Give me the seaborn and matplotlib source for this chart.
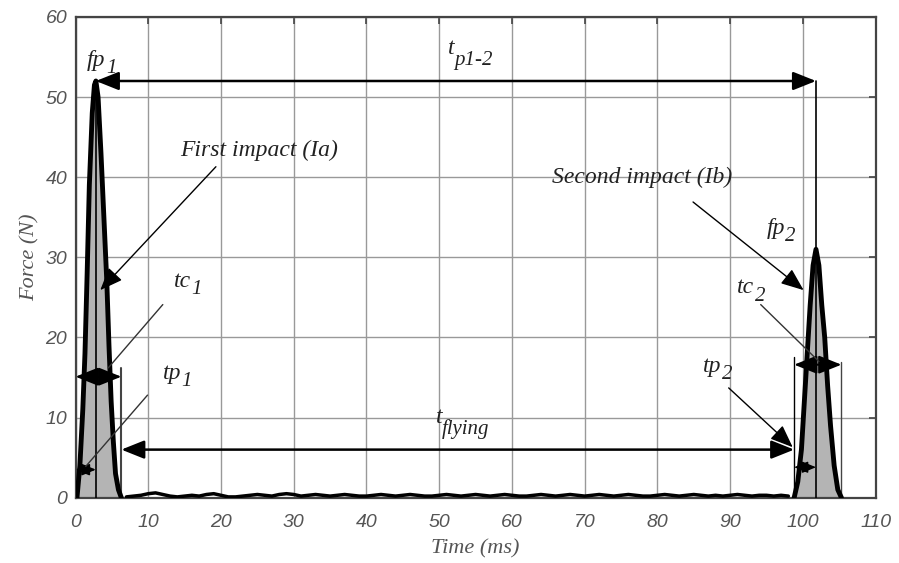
import numpy as np
import pandas as pd
import seaborn as sns
import matplotlib.pyplot as plt

# peak shapes (time in ms, force in N)
peak1_time = [0.2, 0.6, 1.0, 1.3, 1.6, 1.9, 2.3, 2.6, 2.8, 3.1, 3.5, 3.9, 4.3, 4.6, 4.9, 5.2, 5.5, 5.9, 6.3]
peak1_force = [0, 4, 11, 18, 28, 39, 48, 51.5, 52, 50, 43, 35, 27, 19, 12, 7, 3, 1, 0]

peak2_time = [98.8, 99.3, 99.8, 100.2, 100.6, 101.0, 101.4, 101.8, 102.2, 102.6, 103.0, 103.4, 103.8, 104.3, 104.8, 105.3]
peak2_force = [0, 2, 6, 12, 18, 24, 29, 31, 29, 24, 20, 14, 9, 4, 1, 0]

# flying phase, small wiggle near zero
noise_time = list(range(7, 99))
noise_force = [0.1, 0.2, 0.3, 0.5, 0.6, 0.4, 0.2, 0.1, 0.2, 0.3, 0.2, 0.4, 0.5, 0.3, 0.1, 0.1,
               0.2, 0.3, 0.4, 0.3, 0.2, 0.4, 0.5, 0.4, 0.2, 0.3, 0.4, 0.3, 0.2, 0.3, 0.4, 0.3,
               0.2, 0.2, 0.3, 0.4, 0.3, 0.2, 0.3, 0.4, 0.3, 0.2, 0.2, 0.3, 0.4, 0.3, 0.2, 0.3,
               0.4, 0.3, 0.2, 0.3, 0.4, 0.3, 0.2, 0.2, 0.3, 0.4, 0.3, 0.2, 0.3, 0.4, 0.3, 0.2,
               0.3, 0.4, 0.3, 0.2, 0.3, 0.4, 0.3, 0.2, 0.2, 0.3, 0.4, 0.3, 0.2, 0.3, 0.4, 0.3,
               0.2, 0.3, 0.2, 0.3, 0.4, 0.3, 0.2, 0.3, 0.3, 0.2, 0.3, 0.2]

x_ticks = [0, 10, 20, 30, 40, 50, 60, 70, 80, 90, 100, 110]
y_ticks = [0, 10, 20, 30, 40, 50, 60]

tp1, tc1 = 2.8, 6.3
tp2_start, tp2_peak, tc2_end = 98.8, 101.8, 105.3
fp1, fp2 = 52, 31

sns.set_style("white")
serif = ['Liberation Serif', 'DejaVu Serif']

fig = plt.figure(figsize=(8.99, 5.63), dpi=100)
ax = fig.add_axes([0.084, 0.116, 0.89, 0.854])

p1 = pd.DataFrame({'t': peak1_time, 'f': peak1_force})
p2 = pd.DataFrame({'t': peak2_time, 'f': peak2_force})
fl = pd.DataFrame({'t': noise_time, 'f': noise_force})

ax.fill_between(p1['t'], p1['f'], color='#b4b4b4', zorder=2)
ax.fill_between(p2['t'], p2['f'], color='#b4b4b4', zorder=2)
for d in (p1, p2):
    sns.lineplot(data=d, x='t', y='f', ax=ax, color='black', lw=3.5, zorder=4)
sns.lineplot(data=fl, x='t', y='f', ax=ax, color='black', lw=2.5, zorder=4)

# vertical guide lines
ax.plot([tp1, tp1], [0, fp1], color='black', lw=1.2, zorder=3)
ax.plot([tc1, tc1], [0, 16.2], color='#444444', lw=1.5, zorder=3)
ax.plot([tp2_peak, tp2_peak], [0, fp1], color='black', lw=1.2, zorder=3)
ax.plot([tp2_start, tp2_start], [0, 17.6], color='black', lw=1.0, zorder=3)
ax.plot([tc2_end, tc2_end], [0, 16.9], color='#444444', lw=1.0, zorder=3)


def arrow(x0, y0, x1, y1, style='<|-|>', lw=1.5, hl=1.0, hw=0.4):
    ax.annotate('', xy=(x1, y1), xytext=(x0, y0),
                arrowprops=dict(arrowstyle=f'{style},head_length={hl},head_width={hw}',
                                color='black', lw=lw, mutation_scale=14,
                                shrinkA=0, shrinkB=0), zorder=5)


arrow(tp1, fp1, tp2_peak, fp1, lw=1.8)
arrow(tc1, 6.0, tp2_start, 6.0, lw=1.8)
arrow(0, 15.1, tc1, 15.1, lw=1.5)
arrow(0, 3.5, tp1, 3.5, lw=1.2, hl=0.6, hw=0.25)
arrow(tp2_start, 16.6, tc2_end, 16.6, lw=1.5)
arrow(tp2_start, 3.8, tp2_peak, 3.8, lw=1.0, hl=0.6, hw=0.25)

# pointer lines
arrow(19.3, 41.3, 3.4, 25.9, style='-|>', lw=1.0)
arrow(84.9, 36.9, 100.1, 25.9, style='-|>', lw=1.0)
arrow(89.8, 13.7, 98.6, 6.3, style='-|>', lw=1.0)
ax.plot([12.0, 4.5], [24.1, 16.2], color='#333333', lw=1.0, zorder=5)
ax.plot([9.9, 1.4], [12.8, 3.9], color='#333333', lw=1.0, zorder=5)
ax.plot([94.2, 102.2], [24.1, 17.0], color='#333333', lw=1.0, zorder=5)


def label(x, y, main, sub, size=17, dy=-6):
    t = ax.text(x, y, main, fontsize=size, style='italic', family=serif,
                va='center', ha='left', color='#222222', zorder=6)
    fig.canvas.draw()
    bb = t.get_window_extent()
    xr, _ = ax.transData.inverted().transform((bb.x1, bb.y0))
    ax.annotate(sub, xy=(xr, y), xytext=(-0.5, dy), textcoords='offset points',
                fontsize=size - 2, style='italic', family=serif,
                va='center', ha='left', color='#222222', zorder=6)


label(1.6, 54.6, 'fp', '1')
label(51.2, 56.0, 't', 'p1-2', dy=-8)
label(12.0, 15.5, 'tp', '1')
label(13.6, 27.0, 'tc', '1')
label(49.5, 10.0, 't', 'flying', dy=-8)
label(95.0, 33.6, 'fp', '2')
label(91.0, 26.2, 'tc', '2')
label(86.3, 16.4, 'tp', '2')

ax.text(25.2, 43.4, 'First impact (Ia)', fontsize=17, style='italic', family=serif,
        ha='center', va='center', color='#222222', zorder=6)
ax.text(77.9, 40.0, 'Second impact (Ib)', fontsize=17, style='italic', family=serif,
        ha='center', va='center', color='#222222', zorder=6)

ax.set_xlim(0, 110)
ax.set_ylim(0, 60)
ax.set_xticks(x_ticks)
ax.set_yticks(y_ticks)
ax.grid(True, color='#999999', lw=1.0, zorder=0)
ax.set_axisbelow(True)
ax.tick_params(direction='in', length=5, top=True, right=True, width=1.2, color='#444444',
               labelsize=14, labelcolor='#555555', pad=6)
ax.tick_params(axis='x', pad=12)
for lab in ax.get_xticklabels() + ax.get_yticklabels():
    lab.set_style('italic')
    lab.set_family(['Liberation Sans', 'DejaVu Sans'])
for s in ax.spines.values():
    s.set_color('#444444')
    s.set_linewidth(1.6)

ax.set_xlabel('Time (ms)', fontsize=16, style='italic', family=serif, color='#555555', labelpad=6)
ax.set_ylabel('Force (N)', fontsize=16, style='italic', family=serif, color='#555555', labelpad=4)

fig.savefig('out.png', dpi=100)
